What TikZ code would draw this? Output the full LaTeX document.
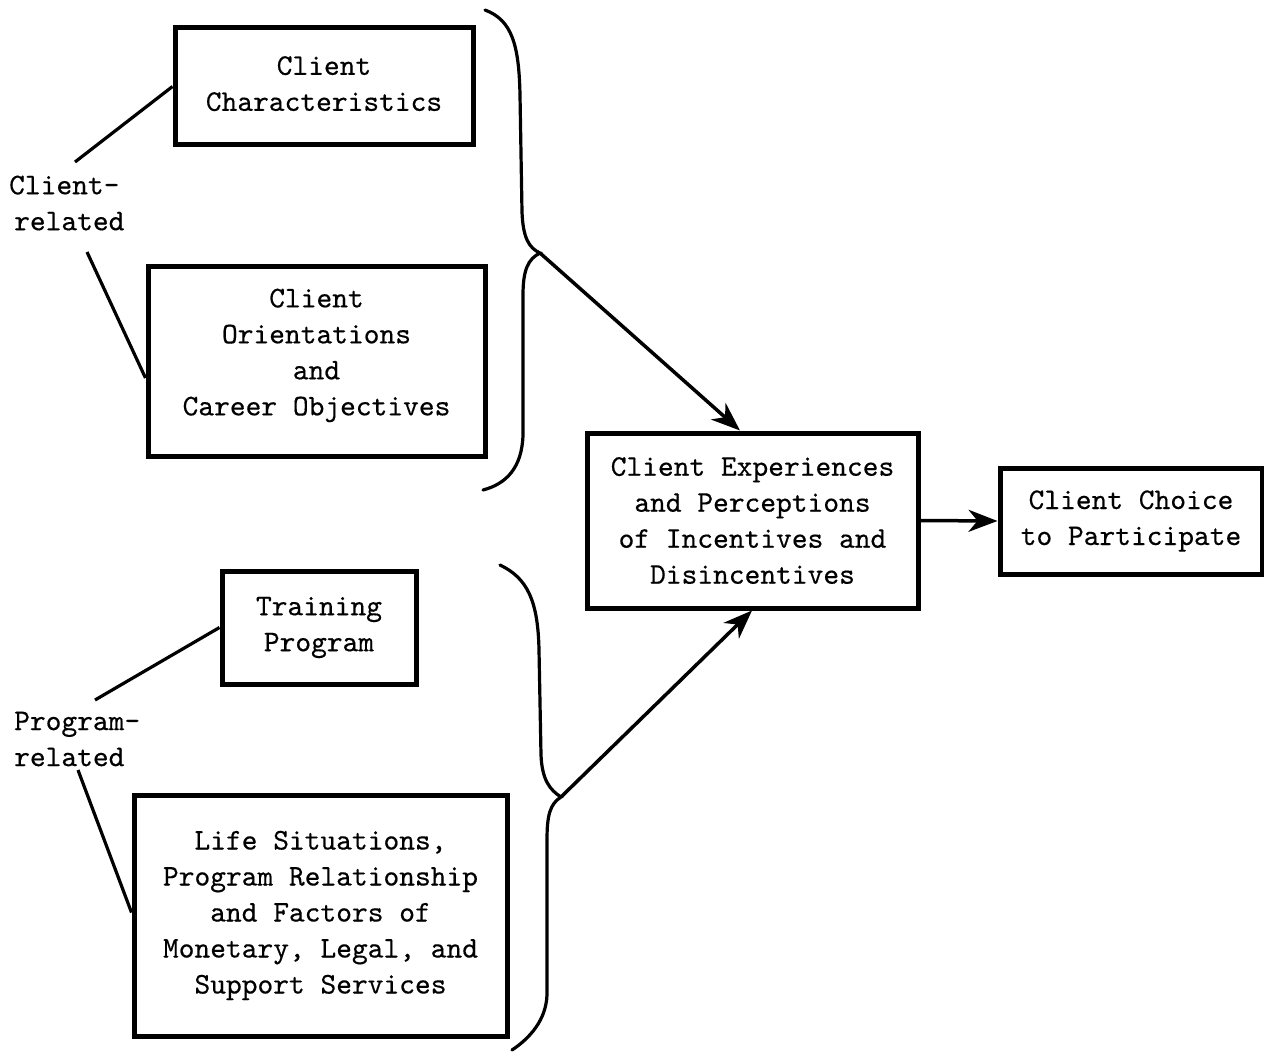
\documentclass[tikz,border=0pt]{standalone}
\usepackage{fontspec}
\setmonofont{lmmono10-regular.otf}[FakeBold=0.4]
\usetikzlibrary{arrows.meta}
\begin{document}
\begin{tikzpicture}[x=1pt,y=-1pt,
  tw/.style={font=\ttfamily\fontsize{30}{36}\selectfont},
  box/.style={tw,draw,line width=5pt,inner sep=0pt,align=center},
  lbl/.style={tw,align=left,anchor=west,inner sep=0pt},
  tie/.style={line width=3.2pt},
  brace/.style={line width=3.2pt,line cap=round},
  arr/.style={line width=3.5pt,-{Stealth[length=29pt,width=22pt,inset=9pt]}}]
\useasboundingbox (0,0) rectangle (1264,1054);
% boxes
\node[box,minimum width=298pt,minimum height=117pt] (cc) at (324,86.5) {Client\\Characteristics\rule[-6pt]{0pt}{0pt}};
\node[box,minimum width=337pt,minimum height=190pt] (co) at (316.5,361) {Client\\Orientations\\and\\Career Objectives\rule[-18pt]{0pt}{0pt}};
\node[box,minimum width=331pt,minimum height=175pt] (ce) at (752.5,520.5) {Client Experiences\\and Perceptions\\of Incentives and\\Disincentives};
\node[box,minimum width=262pt,minimum height=106pt] (ch) at (1131,521) {Client Choice\\to Participate};
\node[box,minimum width=194pt,minimum height=113pt] (tp) at (319,627.5) {Training\\Program};
\node[box,minimum width=373pt,minimum height=241pt] (ls) at (320.5,915.5) {Life Situations,\\Program Relationship\\and Factors of\\Monetary, Legal, and\\Support Services};
% side labels
\node[lbl] (clab) at (9,203) {Client-\\\,related};
\node[lbl] (plab) at (14,739) {Program-\\related};
\coordinate (c1) at (75,162);
\coordinate (c2) at (87,252);
\coordinate (p1) at (95,700);
\coordinate (p2) at (78,770);
\draw[tie] (c1) -- (cc.west);
\draw[tie] (c2) -- ([yshift=-17pt]co.west);
\draw[tie] (p1) -- (tp.west);
\draw[tie] (p2) -- ([yshift=3pt]ls.west);
% braces
\coordinate (k1) at (540,253);
\coordinate (k2) at (561,797);
\draw[brace] (485,10) .. controls (512,20) and (519,45) .. (520,95)
  -- (522,212) .. controls (523,238) and (529,248) .. (k1)
  .. controls (528,259) and (523,270) .. (523,295)
  -- (523,435) .. controls (522,468) and (506,484) .. (483,490);
\draw[brace] (500,565) .. controls (527,578) and (538,600) .. (539,650)
  -- (541,755) .. controls (542,780) and (550,790) .. (k2)
  .. controls (550,804) and (547,815) .. (547,840)
  -- (547,995) .. controls (546,1020) and (530,1038) .. (512,1050);
% arrows
\coordinate (t1) at (740,0);
\coordinate (t2) at (752,0);
\draw[arr] (k1) -- (ce.north -| t1);
\draw[arr] (k2) -- (ce.south -| t2);
\draw[arr] (ce.east) -- (ch.west);
\end{tikzpicture}
\end{document}
